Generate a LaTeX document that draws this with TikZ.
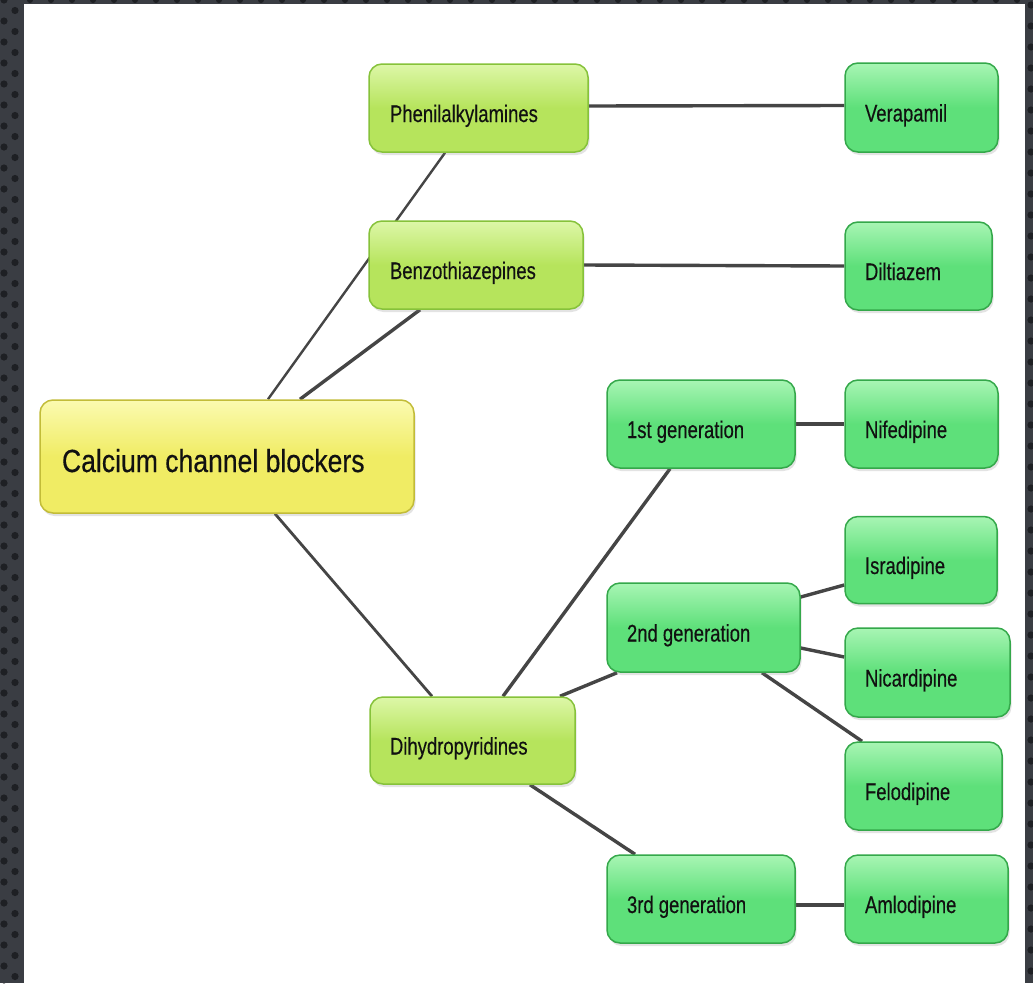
\documentclass[tikz,border=0pt]{standalone}
\usepackage{fontspec}
\setmainfont{Liberation Sans}
\newfontfamily\boxfont{Liberation Sans}[FakeBold=0.4]
\usetikzlibrary{shadows}
\definecolor{bgdark}{HTML}{3A3D43}
\definecolor{dotc}{HTML}{1E2024}
\definecolor{limeT}{HTML}{DDF7A8}
\definecolor{limeM}{HTML}{B6E45C}
\definecolor{limeB}{HTML}{86C23A}
\definecolor{grnT}{HTML}{A8F5B4}
\definecolor{grnM}{HTML}{5EE07A}
\definecolor{grnB}{HTML}{34A84A}
\definecolor{yelT}{HTML}{FBFAB0}
\definecolor{yelM}{HTML}{F0EC64}
\definecolor{yelB}{HTML}{C2BC38}
\definecolor{linec}{HTML}{454545}
\definecolor{txt}{HTML}{111111}
\pgfdeclarelayer{paper}
\pgfdeclarelayer{edges}
\pgfsetlayers{paper,edges,main}
\newcommand\smalltxt[1]{\raisebox{-14pt}[0pt][0pt]{\scalebox{0.77}[1]{\boxfont\fontsize{24}{28}\selectfont\spaceskip=0pt\xspaceskip=0pt #1}}}
\newcommand\bigtxt[1]{\raisebox{-15.5pt}[0pt][0pt]{\scalebox{0.83}[1]{\boxfont\fontsize{32}{36}\selectfont\spaceskip=0pt\xspaceskip=0pt #1}}}
\tikzset{
  box/.style={rounded corners=13pt, line width=1.5pt, inner xsep=20pt, inner ysep=0pt,
    align=left, text=txt,
    drop shadow={opacity=0.22, shadow xshift=1.5pt, shadow yshift=-3pt}},
  limebox/.style={box, draw=limeB, top color=limeT, bottom color=limeM, middle color=limeM},
  grnbox/.style={box, draw=grnB, top color=grnT, bottom color=grnM, middle color=grnM},
  yelbox/.style={box, draw=yelB, top color=yelT, bottom color=yelM, middle color=yelM},
  conn/.style={draw=linec, line width=3.4pt},
}
\begin{document}
\begin{tikzpicture}[x=1pt,y=-1pt]
\useasboundingbox (0,0) rectangle (1033,983);
\begin{pgfonlayer}{paper}
\fill[bgdark] (0,0) rectangle (1033,983);
\foreach \y in {0,21,...,990} {
  \fill[dotc] (4,\y) circle (3.6);
  \fill[dotc] (15,\y+10.5) circle (3.6);
  \fill[dotc] (1031,\y+5) circle (3.6);
}
\foreach \x in {30,51,...,1020} {
  \fill[dotc] (\x,0) circle (3);
}
\fill[white] (24,4) rectangle (1025,983);
\end{pgfonlayer}

% nodes
\node[yelbox, minimum width=374pt, minimum height=113pt, text width=330pt, inner xsep=22pt] (ccb) at (227,456.5) {\bigtxt{Calcium channel blockers}};
\node[limebox, minimum height=88pt, text width=177pt, inner xsep=21pt] (phen) at (478.5,108) {\smalltxt{Phenilalkylamines}};
\node[limebox, minimum height=88pt, text width=172pt, inner xsep=21pt] (benz) at (476,265) {\smalltxt{Benzothiazepines}};
\node[limebox, minimum height=87pt, text width=165pt] (dihy) at (472.5,740.5) {\smalltxt{Dihydropyridines}};
\node[grnbox, minimum height=88pt, text width=148pt] (g1) at (701,424) {\smalltxt{1st generation}};
\node[grnbox, minimum height=89pt, text width=153pt] (g2) at (703.5,627.5) {\smalltxt{2nd generation}};
\node[grnbox, minimum height=88pt, text width=148pt] (g3) at (701,899) {\smalltxt{3rd generation}};
\node[grnbox, minimum height=89pt, text width=113pt] (vera) at (921.5,107.5) {\smalltxt{Verapamil}};
\node[grnbox, minimum height=88pt, text width=107pt] (dilt) at (918.5,266) {\smalltxt{Diltiazem}};
\node[grnbox, minimum height=88pt, text width=113pt] (nife) at (921.5,424) {\smalltxt{Nifedipine}};
\node[grnbox, minimum height=87pt, text width=112pt] (isra) at (921,560) {\smalltxt{Isradipine}};
\node[grnbox, minimum height=89pt, text width=125pt] (nica) at (927.5,672.5) {\smalltxt{Nicardipine}};
\node[grnbox, minimum height=88pt, text width=117pt] (felo) at (923.5,786) {\smalltxt{Felodipine}};
\node[grnbox, minimum height=88pt, text width=123pt] (amlo) at (926.5,899) {\smalltxt{Amlodipine}};

% connectors
\begin{pgfonlayer}{edges}
\draw[conn, line width=2.4pt] ([xshift=41pt]ccb.north) -- ([xshift=-33.5pt]phen.south);
\draw[conn] ([xshift=73pt]ccb.north) -- ([xshift=-56pt]benz.south);
\draw[conn, line width=2.8pt] ([xshift=48pt]ccb.south) -- ([xshift=-40.5pt]dihy.north);
\draw[conn] ([yshift=2pt]phen.east) -- ([yshift=2pt]vera.west);
\draw[conn] (benz.east) -- (dilt.west);
\draw[conn] ([xshift=30.5pt]dihy.north) -- ([xshift=-31pt]g1.south);
\draw[conn] ([xshift=87.5pt]dihy.north) -- ([xshift=-86.5pt]g2.south);
\draw[conn] ([xshift=57.5pt]dihy.south) -- ([xshift=-66pt]g3.north);
\draw[conn] (g1.east) -- (nife.west);
\draw[conn] ([yshift=30.5pt]g2.east) -- ([yshift=-25pt]isra.west);
\draw[conn] ([yshift=-20.5pt]g2.east) -- ([yshift=15.5pt]nica.west);
\draw[conn] ([xshift=58.5pt]g2.south) -- ([xshift=-61.5pt]felo.north);
\draw[conn] ([yshift=-6pt]g3.east) -- ([yshift=-6pt]amlo.west);
\end{pgfonlayer}
\end{tikzpicture}
\end{document}
